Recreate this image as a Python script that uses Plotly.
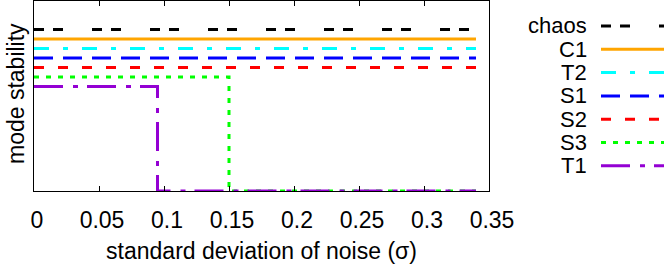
import plotly.graph_objects as go

# ---- data ----
modes = ["chaos", "C1", "T2", "S1", "S2", "S3", "T1"]
noise_chaos = [0, 0.34]; stab_chaos = [0.85, 0.85]
noise_C1 = [0, 0.34]; stab_C1 = [0.80, 0.80]
noise_T2 = [0, 0.34]; stab_T2 = [0.75, 0.75]
noise_S1 = [0, 0.34]; stab_S1 = [0.70, 0.70]
noise_S2 = [0, 0.34]; stab_S2 = [0.65, 0.65]
noise_S3 = [0, 0.15, 0.34]; stab_S3 = [0.60, 0.0, 0.0]
noise_T1 = [0, 0.095, 0.34]; stab_T1 = [0.55, 0.0, 0.0]
x_tick_vals = [0, 0.05, 0.1, 0.15, 0.2, 0.25, 0.3, 0.35]
x_tick_text = ["0", "0.05", "0.1", "0.15", "0.2", "0.25", "0.3", "0.35"]

series = {
    "chaos": (noise_chaos, stab_chaos),
    "C1": (noise_C1, stab_C1),
    "T2": (noise_T2, stab_T2),
    "S1": (noise_S1, stab_S1),
    "S2": (noise_S2, stab_S2),
    "S3": (noise_S3, stab_S3),
    "T1": (noise_T1, stab_T1),
}

# ---- styles ----
colors = {"chaos": "#000000", "C1": "#FFA500", "T2": "#00FFFF", "S1": "#0000FF",
          "S2": "#FF0000", "S3": "#00FF00", "T1": "#9400D3"}
dashes = {"chaos": "10px,9px,10px,29px", "C1": "solid", "T2": "15px,14px,5px,14px",
          "S1": "19px,10px", "S2": "10px,14px", "S3": "5px,7px", "T1": "29px,10px,5px,9px"}

FONT = "Liberation Sans, Arial, Helvetica, sans-serif"
FS = 23
LFS = 22
W, H = 664, 264
ML, MR, MT, MB = 34, 175, 1, 73
PW = W - ML - MR
PH = H - MT - MB

fig = go.Figure()
for m in modes:
    xs, ys = series[m]
    fig.add_trace(go.Scatter(x=xs, y=ys, mode="lines", name=m, line_shape="hv",
                             line=dict(color=colors[m], width=3, dash=dashes[m]),
                             showlegend=False))

# manual legend: labels on the left, line samples on the right
annotations = []
shapes = []
leg_text_px = 588
leg_x0_px, leg_x1_px = 601, 672
leg_y0_px, leg_dy_px = 26, 23.3
for i, m in enumerate(modes):
    py = leg_y0_px + i * leg_dy_px
    yp = (MT + PH - py) / PH
    annotations.append(dict(xref="paper", yref="paper", x=(leg_text_px - ML) / PW, y=yp,
                            text=m, showarrow=False, xanchor="right", yanchor="middle",
                            height=19, borderpad=0,
                            font=dict(family=FONT, size=LFS, color="black")))
    shapes.append(dict(type="line", xref="paper", yref="paper",
                       x0=(leg_x0_px - ML) / PW, x1=(leg_x1_px - ML) / PW, y0=yp, y1=yp,
                       line=dict(color=colors[m], width=3, dash=dashes[m])))

# y axis title as rotated text
annotations.append(dict(xref="paper", yref="paper", x=(16 - ML) / PW, y=(MT + PH - 94) / PH,
                        text="mode stability", showarrow=False, textangle=-90,
                        xanchor="center", yanchor="middle",
                        font=dict(family=FONT, size=FS, color="black")))

fig.update_layout(
    width=W, height=H,
    margin=dict(l=ML, r=MR, t=MT, b=MB, autoexpand=False),
    plot_bgcolor="white", paper_bgcolor="white",
    font=dict(family=FONT, size=FS, color="black"),
    annotations=annotations, shapes=shapes,
    showlegend=False,
)
fig.update_xaxes(range=[0, 0.35], tickvals=x_tick_vals, ticktext=x_tick_text,
                 ticks="inside", ticklen=5, tickcolor="black", showline=True,
                 linecolor="black", linewidth=1, mirror="ticks", showgrid=False,
                 zeroline=False, tickfont=dict(size=FS), ticklabelshift=3,
                 ticklabelstandoff=8,
                 title=dict(text="standard deviation of noise (σ)", font=dict(size=FS), standoff=21),
                 automargin=False)
fig.update_yaxes(range=[0, 1], showticklabels=False, ticks="", showline=True,
                 linecolor="black", linewidth=1, mirror=True, showgrid=False,
                 zeroline=False, automargin=False)

fig.write_html("out.html", config={"displayModeBar": False},
               post_script="document.body.style.margin='0';")
